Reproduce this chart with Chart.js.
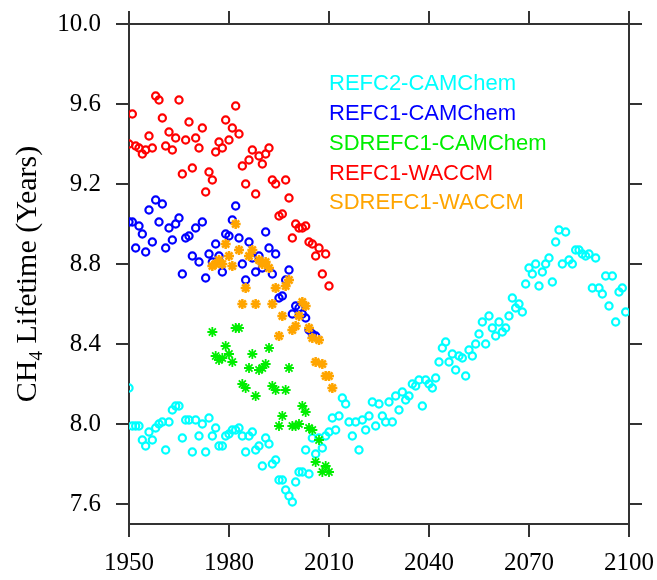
<!DOCTYPE html>
<html>
<head>
<meta charset="utf-8">
<script src="https://cdn.jsdelivr.net/npm/chart.js@4.4.1/dist/chart.umd.min.js"></script>
<style>
  html, body { margin: 0; padding: 0; background: #fff; }
  #wrap { width: 657px; height: 580px; }
</style>
</head>
<body>
<div id="wrap"><canvas id="c" width="657" height="580"></canvas></div>
<script>
// ---- Data (annual values) ----
const seriesNames = ['REFC2-CAMChem', 'REFC1-CAMChem', 'SDREFC1-CAMChem', 'REFC1-WACCM', 'SDREFC1-WACCM'];
const seriesColors = ['#00FFFF', '#0000FF', '#00EE00', '#FF0000', '#FFA500'];

const refc2CamStart = 1950;
const refc2CamValues = [
  8.18, 7.99, 7.99, 7.99, 7.92, 7.89, 7.96, 7.92, 7.98, 8.00,
  8.01, 7.87, 8.01, 8.07, 8.09, 8.09, 7.93, 8.02, 8.02, 7.86,
  8.02, 7.94, 8.00, 7.86, 8.03, 7.94, 7.98, 7.89, 7.89, 7.94,
  7.95, 7.97, 7.97, 7.98, 7.94, 7.86, 7.94, 7.96, 7.87, 7.89,
  7.79, 7.93, 7.90, 7.80, 7.82, 7.72, 7.72, 7.67, 7.64, 7.61,
  7.71, 7.76, 7.76, 7.87, 7.75, 7.93, 7.85, 7.93, 7.88, 7.94,
  7.96, 8.03, 7.97, 8.04, 8.13, 8.10, 8.01, 7.94, 8.01, 7.87,
  8.02, 7.97, 8.04, 8.11, 7.99, 8.10, 8.04, 8.01, 8.11, 8.01,
  8.14, 8.07, 8.16, 8.12, 8.14, 8.20, 8.19, 8.22, 8.09, 8.22,
  8.20, 8.18, 8.23, 8.31, 8.38, 8.41, 8.31, 8.35, 8.27, 8.34,
  8.33, 8.24, 8.37, 8.34, 8.40, 8.45, 8.51, 8.40, 8.54, 8.48,
  8.44, 8.51, 8.46, 8.48, 8.54, 8.63, 8.58, 8.60, 8.56, 8.70,
  8.78, 8.75, 8.80, 8.69, 8.76, 8.80, 8.83, 8.71, 8.91, 8.97,
  8.80, 8.96, 8.82, 8.80, 8.87, 8.87, 8.85, 8.84, 8.85, 8.68,
  8.83, 8.68, 8.65, 8.74, 8.59, 8.74, 8.51, 8.66, 8.68, 8.56
];

const refc1CamStart = 1950;
const refc1CamValues = [
  9.01, 9.01, 8.88, 8.99, 8.95, 8.86, 9.07, 8.91, 9.12, 9.01,
  9.10, 8.88, 8.98, 8.92, 9.00, 9.03, 8.75, 8.93, 8.94, 8.84,
  8.98, 8.81, 9.01, 8.73, 8.85, 8.81, 8.90, 8.84, 8.76, 8.95,
  8.94, 9.02, 9.09, 8.93, 8.80, 8.72, 8.91, 8.83, 8.76, 8.84,
  8.78, 8.96, 8.88, 8.75, 8.85, 8.63, 8.64, 8.72, 8.77, 8.55,
  8.59, 8.58, 8.55, 8.53, 8.47, 8.45, 8.44
];

const sdrefc1CamStart = 1975;
const sdrefc1CamValues = [
  8.46, 8.34, 8.32, 8.33, 8.39, 8.35, 8.31, 8.48, 8.48, 8.20,
  8.18, 8.28, 8.35, 8.14, 8.27, 8.28, 8.30, 8.38, 8.19, 8.17,
  7.99, 8.04, 8.17, 8.28, 7.99, 7.99, 8.00, 8.09, 8.06, 7.98,
  7.97, 7.81, 7.92, 7.76, 7.79, 7.76
];

const refc1WacStart = 1950;
const refc1WacValues = [
  9.40, 9.55, 9.39, 9.38, 9.35, 9.37, 9.44, 9.38, 9.64, 9.62,
  9.53, 9.39, 9.46, 9.37, 9.43, 9.62, 9.25, 9.42, 9.51, 9.28,
  9.43, 9.38, 9.48, 9.16, 9.26, 9.22, 9.36, 9.41, 9.38, 9.52,
  9.42, 9.48, 9.59, 9.45, 9.29, 9.20, 9.32, 9.37, 9.15, 9.34,
  9.30, 9.35, 9.38, 9.22, 9.20, 9.04, 9.05, 9.22, 9.13, 8.93,
  9.00, 8.98, 8.98, 8.99, 8.91, 8.90, 8.84, 8.88, 8.75, 8.85, 8.69
];

const sdrefc1WacStart = 1975;
const sdrefc1WacValues = [
  8.79, 8.80, 8.82, 8.80, 8.90, 8.84, 8.79, 9.00, 8.87, 8.60,
  8.68, 8.84, 8.87, 8.60, 8.82, 8.80, 8.81, 8.78, 8.60, 8.68,
  8.44, 8.54, 8.69, 8.72, 8.47, 8.49, 8.54, 8.61, 8.59, 8.48,
  8.43, 8.31, 8.42, 8.30, 8.24, 8.24, 8.18
];

const xTickValues = [1950, 1980, 2010, 2040, 2070, 2100];
const yTickValues = [7.6, 8.0, 8.4, 8.8, 9.2, 9.6, 10.0];
const yTitle = ['CH', '4', ' Lifetime (Years)'];

// ---- Build datasets ----
function toPoints(start, vals) {
  return vals.map((v, i) => ({ x: start + i, y: v }));
}
const seriesData = [
  toPoints(refc2CamStart, refc2CamValues),
  toPoints(refc1CamStart, refc1CamValues),
  toPoints(sdrefc1CamStart, sdrefc1CamValues),
  toPoints(refc1WacStart, refc1WacValues),
  toPoints(sdrefc1WacStart, sdrefc1WacValues)
];
const styles = ['circle', 'circle', 'star', 'circle', 'star'];
const radii = [3.6, 3.6, 5, 3.6, 5];
const bws = [2.2, 2.2, 1.8, 2.2, 2.5];

const datasets = seriesData.map((d, i) => ({
  label: seriesNames[i],
  data: d,
  showLine: false,
  pointStyle: styles[i],
  pointRadius: radii[i],
  pointHoverRadius: radii[i],
  borderWidth: bws[i],
  pointBorderWidth: bws[i],
  borderColor: seriesColors[i],
  pointBorderColor: seriesColors[i],
  backgroundColor: 'rgba(0,0,0,0)',
  pointBackgroundColor: 'rgba(0,0,0,0)',
  order: 5 - i
}));

const axisColor = '#333';
const gridCommon = { drawOnChartArea: false, drawTicks: true, tickLength: 13, color: axisColor, lineWidth: 2 };
const borderCommon = { display: true, color: axisColor, width: 2 };
const tickFont = { family: '"Liberation Serif", "Times New Roman", serif', size: 25 };

function zeroPad(s) { s.paddingLeft = 0; s.paddingRight = 0; s.paddingTop = 0; s.paddingBottom = 0; }

const overlay = {
  id: 'overlay',
  afterDraw(chart) {
    const ctx = chart.ctx;
    ctx.save();
    ctx.font = '22px "Liberation Sans", Arial, sans-serif';
    ctx.textAlign = 'left';
    ctx.textBaseline = 'middle';
    const ly = [84, 114, 144, 174, 203];
    seriesNames.forEach((n, i) => {
      ctx.fillStyle = seriesColors[i];
      ctx.fillText(n, 329, ly[i]);
    });
    ctx.restore();

    ctx.save();
    const mainF = '30px "Liberation Serif", "Times New Roman", serif';
    const subF = '19px "Liberation Serif", "Times New Roman", serif';
    ctx.font = mainF; const w0 = ctx.measureText(yTitle[0]).width;
    const w2 = ctx.measureText(yTitle[2]).width;
    ctx.font = subF; const w1 = ctx.measureText(yTitle[1]).width;
    const total = w0 + w1 + w2;
    ctx.translate(36, 274);
    ctx.rotate(-Math.PI / 2);
    ctx.fillStyle = '#000';
    ctx.textBaseline = 'alphabetic';
    ctx.textAlign = 'left';
    let x = -total / 2;
    ctx.font = mainF; ctx.fillText(yTitle[0], x, 0); x += w0;
    ctx.font = subF; ctx.fillText(yTitle[1], x, 6); x += w1;
    ctx.font = mainF; ctx.fillText(yTitle[2], x, 0);
    ctx.restore();
  }
};

new Chart(document.getElementById('c'), {
  type: 'scatter',
  data: { datasets },
  options: {
    responsive: false,
    animation: false,
    layout: { padding: 0 },
    plugins: { legend: { display: false }, tooltip: { enabled: false } },
    events: [],
    scales: {
      x: {
        type: 'linear', position: 'bottom', min: 1950, max: 2100,
        afterBuildTicks: s => { s.ticks = xTickValues.map(v => ({ value: v })); },
        ticks: { font: tickFont, color: '#000', padding: 11, maxRotation: 0, autoSkip: false,
                 callback: v => String(v) },
        grid: gridCommon, border: borderCommon,
        afterFit: s => { s.height = 56; zeroPad(s); }
      },
      x2: {
        type: 'linear', position: 'top', min: 1950, max: 2100,
        afterBuildTicks: s => { s.ticks = xTickValues.map(v => ({ value: v })); },
        ticks: { display: false },
        grid: gridCommon, border: borderCommon,
        afterFit: s => { s.height = 24; zeroPad(s); }
      },
      y: {
        type: 'linear', position: 'left', min: 7.5, max: 10.0,
        afterBuildTicks: s => { s.ticks = yTickValues.map(v => ({ value: v })); },
        ticks: { font: tickFont, color: '#000', padding: 15, autoSkip: false,
                 callback: v => Number(v).toFixed(1) },
        grid: gridCommon, border: borderCommon,
        afterFit: s => { s.width = 129; zeroPad(s); }
      },
      y2: {
        type: 'linear', position: 'right', min: 7.5, max: 10.0,
        afterBuildTicks: s => { s.ticks = yTickValues.map(v => ({ value: v })); },
        ticks: { display: false },
        grid: gridCommon, border: borderCommon,
        afterFit: s => { s.width = 28; zeroPad(s); }
      }
    }
  },
  plugins: [overlay]
});
</script>
</body>
</html>
